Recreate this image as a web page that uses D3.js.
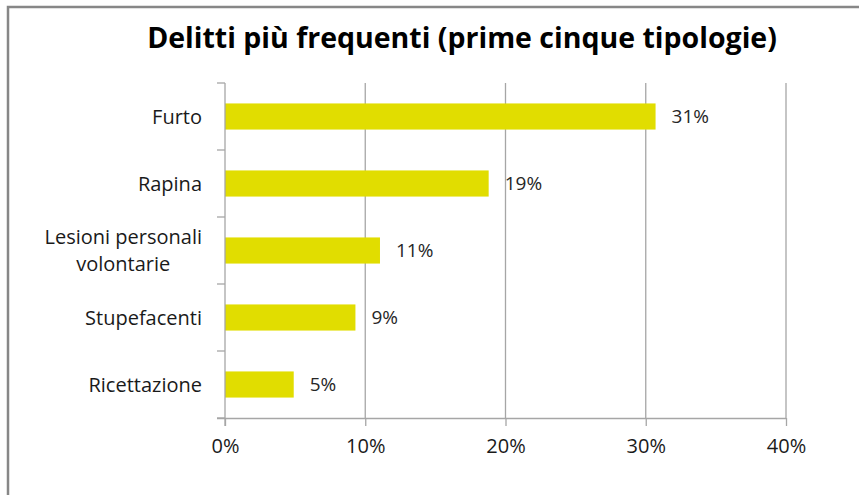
<!DOCTYPE html>
<html>
<head>
<meta charset="utf-8">
<script src="https://cdn.jsdelivr.net/npm/d3@7"></script>
<style>
  body { margin: 0; background: #fff; }
  text { font-family: "Open Sans", "Noto Sans", sans-serif; }
</style>
</head>
<body>
<script>
(function(){

//chart data
var categories = ["Furto", "Rapina", "Lesioni personali|volontarie", "Stupefacenti", "Ricettazione"];
var values = [30.7, 18.8, 11.05, 9.3, 4.9]; //percent
var tickValues = [0, 10, 20, 30, 40];
var title = "Delitti più frequenti (prime cinque tipologie)";

var width = 859,
    height = 495;

var svg = d3.select("body")
    .append("svg")
    .attr("width", width)
    .attr("height", height);

//outer frame (only top and left edges show)
svg.append("path")
    .attr("d", "M8,495V7H859")
    .attr("fill", "none")
    .attr("stroke", "#878787")
    .attr("stroke-width", 2.5);

svg.append("text")
    .attr("x", 462)
    .attr("y", 48)
    .attr("text-anchor", "middle")
    .attr("font-size", 28.5)
    .attr("font-weight", "bold")
    .attr("fill", "#000")
    .text(title);

var x = d3.scaleLinear()
    .domain([0, 40])
    .range([225, 786]);

var y = d3.scaleBand()
    .domain(categories)
    .range([83, 418])
    .paddingInner(0.61)
    .paddingOuter(0.305);

var gridColor = "#a6a6a6";

//vertical gridlines
svg.selectAll(".grid")
    .data(tickValues.slice(1))
    .enter()
    .append("line")
    .attr("class", "grid")
    .attr("x1", function(d){ return x(d); })
    .attr("x2", function(d){ return x(d); })
    .attr("y1", 83)
    .attr("y2", 418)
    .attr("stroke", gridColor)
    .attr("stroke-width", 1.3);

//bars
svg.selectAll(".bar")
    .data(values)
    .enter()
    .append("rect")
    .attr("class", "bar")
    .attr("x", x(0))
    .attr("y", function(d, i){ return y(categories[i]); })
    .attr("width", function(d){ return x(d) - x(0); })
    .attr("height", y.bandwidth())
    .attr("fill", "#e1dd00");

//value labels
svg.selectAll(".val")
    .data(values)
    .enter()
    .append("text")
    .attr("class", "val")
    .attr("x", function(d){ return x(d) + 16; })
    .attr("y", function(d, i){ return y(categories[i]) + y.bandwidth() / 2; })
    .attr("dy", "0.36em")
    .attr("font-size", 19)
    .attr("fill", "#262626")
    .text(function(d){ return Math.round(d) + "%"; });

//x axis
var xAxis = d3.axisBottom(x)
    .tickValues(tickValues)
    .tickSize(8)
    .tickPadding(13)
    .tickFormat(function(d){ return d + "%"; });

var gx = svg.append("g")
    .attr("transform", "translate(0,418)")
    .call(xAxis);
gx.select(".domain").attr("d", "M217,0.5H" + x(40));
gx.selectAll("line").attr("stroke", gridColor).attr("stroke-width", 1.3);
gx.select(".domain").attr("stroke", gridColor).attr("stroke-width", 1.3);
gx.selectAll("text")
    .attr("font-size", 20)
    .attr("fill", "#1a1a1a")
    .style("font-family", "'Open Sans', sans-serif");

//y axis line and category ticks
svg.append("line")
    .attr("x1", x(0)).attr("x2", x(0))
    .attr("y1", 83).attr("y2", 426)
    .attr("stroke", gridColor)
    .attr("stroke-width", 1.3);

var bounds = categories.map(function(c){ return y(c) - y.step() * y.paddingInner() / 2; });
bounds.push(418);
svg.selectAll(".ytick")
    .data(bounds)
    .enter()
    .append("line")
    .attr("class", "ytick")
    .attr("x1", 217).attr("x2", x(0))
    .attr("y1", function(d){ return d; })
    .attr("y2", function(d){ return d; })
    .attr("stroke", gridColor)
    .attr("stroke-width", 1.3);

//category labels, multi-line ones centred on their widest line
svg.selectAll(".cat")
    .data(categories)
    .enter()
    .append("text")
    .attr("class", "cat")
    .attr("font-size", 20)
    .attr("fill", "#1a1a1a")
    .each(function(c){
        var lines = c.split("|");
        var t = d3.select(this);
        var cy = y(c) + y.bandwidth() / 2;
        var lh = 27;
        if (lines.length === 1) {
            t.attr("x", 202).attr("y", cy).attr("dy", "0.36em")
                .attr("text-anchor", "end").text(lines[0]);
        } else {
            t.attr("text-anchor", "middle");
            lines.forEach(function(l, i){
                t.append("tspan")
                    .attr("x", 0)
                    .attr("y", cy + (i - (lines.length - 1) / 2) * lh)
                    .attr("dy", "0.36em")
                    .text(l);
            });
            var w = this.getBBox().width;
            t.selectAll("tspan").attr("x", 202 - w / 2);
        }
    });

})();
</script>
</body>
</html>
